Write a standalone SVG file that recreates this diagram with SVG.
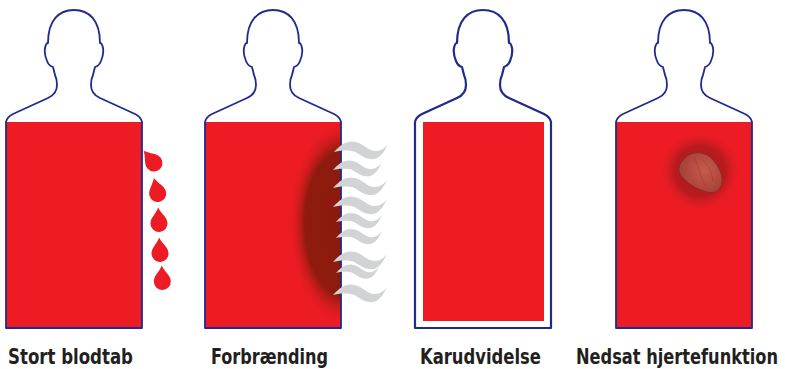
<svg xmlns="http://www.w3.org/2000/svg" xmlns:xlink="http://www.w3.org/1999/xlink" width="785" height="369" viewBox="0 0 785 369">
  <style>
    .outline { fill: none; stroke: #1f2a8c; stroke-width: 1.8; stroke-linejoin: round; }
    .torso { fill: #ed1c24; }
    .drop { fill: #ed1c24; }
    .wisp { fill: #d1d3d4; }
    .label { font-family: "Liberation Sans Narrow", "DejaVu Sans Condensed", "Liberation Sans", sans-serif; font-weight: bold; font-size: 21px; fill: #231f20; }
  </style>
  <defs>
    <!-- body silhouette centred on x=0 -->
    <path id="body" d="M-68,328 L-68,122 Q-67,117 -61,114 L-26,98 Q-17,94 -17,85 Q-17,79 -19,75 L-21,67 Q-25,66 -27,61 Q-30,54 -29,48 Q-28,43 -26,43 C-26,20 -15,10 0,10 C15,10 26,20 26,43 Q28,43 29,48 Q30,54 27,61 Q25,66 21,67 L19,75 Q17,79 17,85 Q17,94 26,98 L61,114 Q67,117 68,122 L68,328 Z"/>
    <!-- teardrop, tip up, body centred at origin -->
    <path id="drop" d="M0,-16 C3,-9 8.5,-6 8.5,0 A8.5,8.5 0 0 1 -8.5,0 C-8.5,-6 -3,-9 0,-16 Z"/>
    <!-- wisp of smoke, left tip at origin -->
    <path id="wisp" d="M0,0 C8,-9 14,-12 22,-10 C30,-8 34,-1 42,-1 C47,-1 51,-4 54,-8 C49,3 44,8 36,7 C28,6 24,0 18,-1 C10,-2 4,-1 0,0 Z"/>
    <radialGradient id="burn" cx="0.5" cy="0.5" r="0.5">
      <stop offset="0" stop-color="#8a1a0c"/>
      <stop offset="0.7" stop-color="#8e1b0e"/>
      <stop offset="1" stop-color="#ed1c24" stop-opacity="0"/>
    </radialGradient>
    <radialGradient id="glow" cx="0.5" cy="0.5" r="0.5">
      <stop offset="0" stop-color="#a3191a"/>
      <stop offset="0.6" stop-color="#b81b1f"/>
      <stop offset="1" stop-color="#ed1c24" stop-opacity="0"/>
    </radialGradient>
    <radialGradient id="heartFill" cx="0.6" cy="0.45" r="0.6">
      <stop offset="0" stop-color="#c55c4c"/>
      <stop offset="1" stop-color="#a63f38"/>
    </radialGradient>
    <clipPath id="torso2">
      <rect x="205" y="122" width="136" height="206"/>
    </clipPath>
  </defs>

  <!-- Stort blodtab -->
  <g id="blood-loss">
    <rect class="torso" x="6" y="122" width="136" height="206"/>
    <use href="#body" class="outline" transform="translate(74,0)"/>
    <use href="#drop" class="drop" transform="translate(154,163) rotate(-40)"/>
    <use href="#drop" class="drop" transform="translate(157.7,193.5) rotate(-14)"/>
    <use href="#drop" class="drop" transform="translate(159,223.5) rotate(-3)"/>
    <use href="#drop" class="drop" transform="translate(160,253.5) rotate(-3)"/>
    <use href="#drop" class="drop" transform="translate(162.3,281.5) rotate(-2)"/>
    <text class="label" x="8" y="364" textLength="125" lengthAdjust="spacingAndGlyphs">Stort blodtab</text>
  </g>

  <!-- Forbrænding -->
  <g id="burn-injury">
    <rect class="torso" x="205" y="122" width="136" height="206"/>
    <ellipse cx="344" cy="223" rx="56" ry="104" fill="url(#burn)" clip-path="url(#torso2)"/>
    <use href="#body" class="outline" transform="translate(273,0)"/>
    <use href="#wisp" class="wisp" transform="translate(334,152)"/>
    <use href="#wisp" class="wisp" transform="translate(333,170) scale(0.9)"/>
    <use href="#wisp" class="wisp" transform="translate(333,188)"/>
    <use href="#wisp" class="wisp" transform="translate(333,207)"/>
    <use href="#wisp" class="wisp" transform="translate(336,222) scale(0.85)"/>
    <use href="#wisp" class="wisp" transform="translate(336,238) scale(0.85)"/>
    <use href="#wisp" class="wisp" transform="translate(333,262)"/>
    <use href="#wisp" class="wisp" transform="translate(336,273) scale(0.8)"/>
    <use href="#wisp" class="wisp" transform="translate(333,295)"/>
    <text class="label" x="211" y="364" textLength="117" lengthAdjust="spacingAndGlyphs">Forbrænding</text>
  </g>

  <!-- Karudvidelse -->
  <g id="vasodilation">
    <use href="#body" class="outline" transform="translate(483,0)" style="stroke-width:2.2"/>
    <rect class="torso" x="423" y="122" width="121" height="199"/>
    <text class="label" x="420" y="364" textLength="121" lengthAdjust="spacingAndGlyphs">Karudvidelse</text>
  </g>

  <!-- Nedsat hjertefunktion -->
  <g id="heart-failure">
    <rect class="torso" x="616" y="122" width="136" height="206"/>
    <circle cx="700" cy="171" r="42" fill="url(#glow)"/>
    <path d="M683,160 C689,151 702,151 709,156 C716,162 723,172 722,182 C721,191 714,194 707,192 C699,190 689,185 683,178 C677,172 678,165 683,160 Z" fill="url(#heartFill)" stroke="#8a2b24" stroke-width="1"/>
    <path d="M694,156 C698,165 700,175 705,186 M703,160 C708,166 712,172 713,182" fill="none" stroke="#9a3630" stroke-width="0.8" opacity="0.6"/>
    <use href="#body" class="outline" transform="translate(684,0)"/>
    <!-- long label: smaller font stretched vertically so it stays inside the right edge -->
    <text class="label" x="0" y="0" transform="translate(576,364) scale(1,1.1667)" style="font-size:18px" textLength="202" lengthAdjust="spacingAndGlyphs">Nedsat hjertefunktion</text>
  </g>
</svg>
